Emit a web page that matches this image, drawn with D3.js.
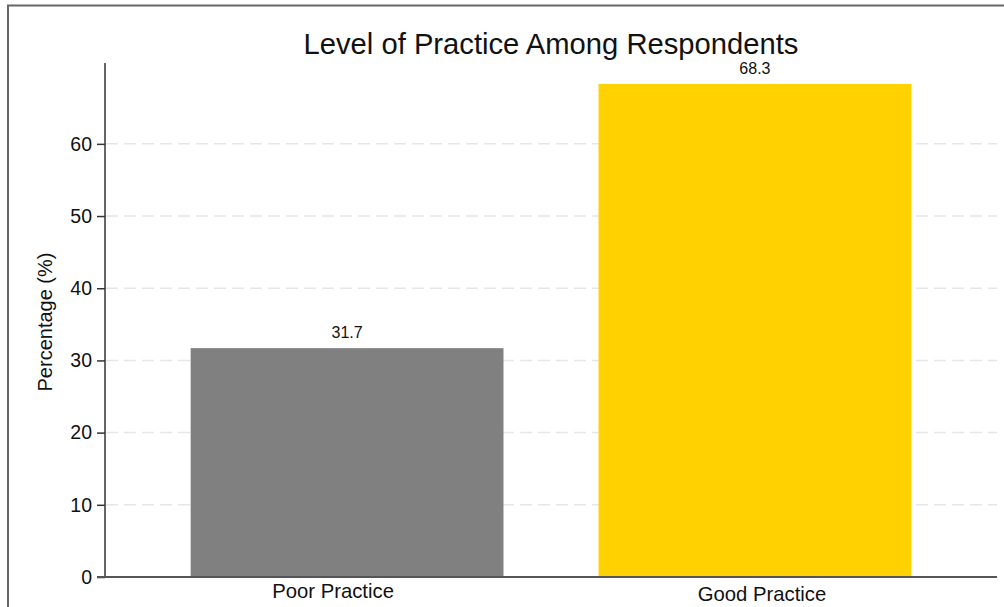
<!DOCTYPE html>
<html>
<head>
<meta charset="utf-8">
<script src="https://cdn.jsdelivr.net/npm/d3@7"></script>
<style>
  html, body { margin: 0; padding: 0; background: #fff; }
  svg { display: block; font-family: "Liberation Sans", Arial, sans-serif; }
</style>
</head>
<body>
<svg id="chart" width="1004" height="607"></svg>
<script>
// Practice level data
const categories = ["Poor Practice", "Good Practice"];
const percentages = [31.7, 68.3];
const barColors = ["#808080", "#FFD100"];
const yTicks = [0, 10, 20, 30, 40, 50, 60];
const titleText = "Level of Practice Among Respondents";
const yLabelText = "Percentage (%)";

const W = 1004, H = 607;
const plot = { left: 105, right: 997, top: 63, bottom: 577 };
const yMax = 71.2;

const svg = d3.select("#chart");

// outer frame (top and left edges)
svg.append("line").attr("x1", 7).attr("x2", W).attr("y1", 5.5).attr("y2", 5.5)
  .attr("stroke", "#666").attr("stroke-width", 2);
svg.append("line").attr("x1", 8).attr("x2", 8).attr("y1", 5).attr("y2", H)
  .attr("stroke", "#666").attr("stroke-width", 2);

const x = d3.scaleBand()
  .domain(categories)
  .range([plot.left, plot.right])
  .paddingInner(0.233)
  .paddingOuter(0.21);

const y = d3.scaleLinear()
  .domain([0, yMax])
  .range([plot.bottom, plot.top]);

// dashed horizontal grid
svg.append("g")
  .selectAll("line")
  .data(yTicks.filter(d => d > 0))
  .join("line")
  .attr("x1", plot.left + 1)
  .attr("x2", plot.right)
  .attr("y1", d => y(d))
  .attr("y2", d => y(d))
  .attr("stroke", "#e6e6e6")
  .attr("stroke-width", 1.5)
  .attr("stroke-dasharray", "12,6");

// bars
svg.append("g")
  .selectAll("rect")
  .data(percentages)
  .join("rect")
  .attr("x", (d, i) => x(categories[i]))
  .attr("width", x.bandwidth())
  .attr("y", d => y(d))
  .attr("height", d => y(0) - y(d))
  .attr("fill", (d, i) => barColors[i]);

// value labels above bars
svg.append("g")
  .selectAll("text")
  .data(percentages)
  .join("text")
  .attr("x", (d, i) => x(categories[i]) + x.bandwidth() / 2)
  .attr("y", d => y(d) - 10)
  .attr("text-anchor", "middle")
  .attr("font-size", 16)
  .attr("fill", "#111")
  .text(d => d.toFixed(1));

// y axis
const yAxis = svg.append("g")
  .attr("transform", `translate(${plot.left},0)`)
  .call(d3.axisLeft(y).tickValues(yTicks).tickSize(8).tickPadding(5));
yAxis.select(".domain").attr("d", `M0,${plot.top}V${plot.bottom}`)
  .attr("stroke", "#333").attr("stroke-width", 1.5);
yAxis.selectAll(".tick line").attr("stroke", "#333").attr("stroke-width", 1.5);
yAxis.selectAll(".tick text")
  .attr("font-size", 19.5)
  .attr("font-family", "Liberation Sans, Arial, sans-serif")
  .attr("fill", "#111");

// x axis
const xAxis = svg.append("g")
  .attr("transform", `translate(0,${plot.bottom})`)
  .call(d3.axisBottom(x).tickSize(0).tickPadding(0));
xAxis.select(".domain").attr("d", `M${plot.left - 8},0H${plot.right}`)
  .attr("stroke", "#555").attr("stroke-width", 2);
const labelShift = [[-14, 21], [7, 23.5]];
xAxis.selectAll(".tick text")
  .attr("font-size", 20.3)
  .attr("font-family", "Liberation Sans, Arial, sans-serif")
  .attr("fill", "#111")
  .attr("dy", null)
  .attr("y", (d, i) => labelShift[i][1])
  .attr("x", (d, i) => labelShift[i][0]);

// y axis title
svg.append("text")
  .attr("transform", `translate(52,${(plot.top + plot.bottom) / 2 + 2}) rotate(-90)`)
  .attr("text-anchor", "middle")
  .attr("font-size", 20)
  .attr("fill", "#111")
  .text(yLabelText);

// chart title
svg.append("text")
  .attr("x", (plot.left + plot.right) / 2)
  .attr("y", 54)
  .attr("text-anchor", "middle")
  .attr("font-size", 29.2)
  .attr("fill", "#111")
  .text(titleText);
</script>
</body>
</html>
